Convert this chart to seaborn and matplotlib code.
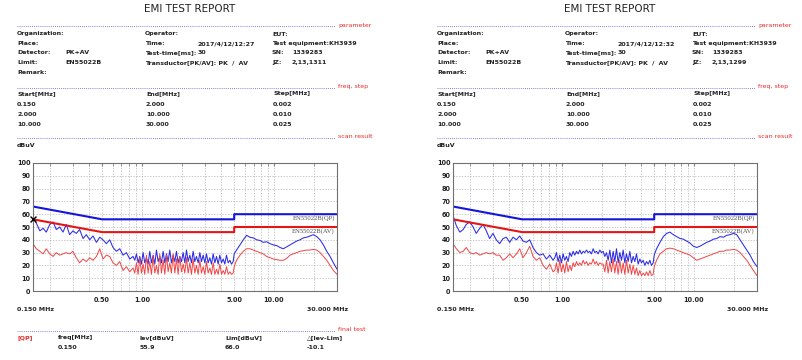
import matplotlib
matplotlib.use("Agg")
import matplotlib.pyplot as plt
from matplotlib.lines import Line2D
from matplotlib.ticker import NullFormatter
import seaborn as sns
import pandas as pd

FIG_W, FIG_H = 802, 360
PANEL_SHIFT = 420

# sweep frequencies (MHz), shared by both scans
freq_mhz = [
    0.150, 0.159, 0.169, 0.179, 0.189, 0.201, 0.213, 0.225, 0.239, 0.253,
    0.268, 0.284, 0.301, 0.319, 0.338, 0.359, 0.380, 0.403, 0.427, 0.453,
    0.480, 0.508, 0.539, 0.571, 0.605, 0.642, 0.680, 0.721, 0.764, 0.810,
    0.858,
    0.884, 0.910, 0.937, 0.964, 0.993, 1.022, 1.052, 1.083, 1.115, 1.148,
    1.182, 1.217, 1.253, 1.290, 1.328, 1.367, 1.407, 1.449, 1.492, 1.536,
    1.581, 1.627, 1.675, 1.725, 1.776, 1.828, 1.882, 1.938, 1.995, 2.054,
    2.114, 2.177, 2.241, 2.307, 2.375, 2.445, 2.517, 2.591, 2.668, 2.747,
    2.828, 2.911, 2.997, 3.085, 3.176, 3.270, 3.367, 3.466, 3.568, 3.673,
    3.782, 3.893, 4.008, 4.126, 4.248, 4.373, 4.503, 4.635, 4.772, 4.913,
    5.000,
    5.21, 5.53, 5.86, 6.21, 6.58, 6.97, 7.39, 7.83, 8.30, 8.80,
    9.33, 9.89, 10.48, 11.11, 11.77, 12.48, 13.23, 14.02, 14.86, 15.75,
    16.69, 17.69, 18.75, 19.88, 21.07, 22.33, 23.67, 25.09, 26.59, 28.19,
    30.00,
]

# left report (12:27)
left_pk = [
    58, 53, 47, 49, 46, 52, 54, 48, 50, 46,
    52, 44, 47, 45, 48, 41, 44, 40, 43, 38,
    42, 40, 37, 40, 34, 31, 33, 28, 30, 25,
    27,
    24, 29, 22, 27, 21, 30, 22, 26, 21, 31,
    22, 28, 21, 32, 23, 27, 22, 31, 22, 29,
    23, 32, 22, 28, 23, 31, 22, 27, 23, 30,
    22, 32, 23, 28, 22, 31, 23, 27, 22, 30,
    23, 28, 22, 29, 22, 26, 21, 29, 22, 27,
    21, 28, 22, 25, 21, 28, 22, 24, 21, 23,
    29,
    32, 36, 40, 43.5, 42, 41.5, 40, 39.5, 38, 38.5,
    37, 36, 35.5, 34, 33, 34.5, 36, 37.5, 39, 40,
    41.5, 42, 43, 44, 42.5, 40, 36, 31, 27, 22,
    17,
]
left_av = [
    37, 33, 31, 29, 33, 29, 27, 30, 28, 29,
    30, 29, 31, 26, 22, 25, 23, 26, 24, 27,
    33, 25, 28, 27, 22, 20, 23, 16, 19, 15,
    18,
    14, 22, 13, 26, 14, 21, 13, 28, 14, 23,
    13, 27, 14, 20, 13, 29, 14, 24, 13, 28,
    15, 22, 14, 29, 14, 25, 13, 27, 15, 21,
    14, 26, 14, 22, 13, 25, 14, 20, 13, 24,
    14, 19, 13, 23, 14, 18, 13, 22, 13, 17,
    13, 21, 13, 16, 13, 19, 13, 15, 13, 14,
    19,
    24, 28, 31, 33, 33, 32, 31, 30, 29, 27,
    26, 25, 24.5, 24, 24, 25.5, 28, 29, 30, 31,
    31.5, 32, 32, 32.5, 32, 30, 27, 24, 20, 16,
    13,
]

# right report (12:32)
right_pk = [
    59, 51, 46, 48, 52, 54, 50, 45, 49, 52,
    47, 41, 45, 40, 37, 41, 42, 38, 42, 40,
    43, 39, 38, 40, 34, 30, 28, 29, 25, 28,
    24,
    26, 30, 23, 28, 22, 29, 24, 27, 23, 30,
    27, 31, 28, 31, 29, 32, 29, 31, 30, 32,
    30, 31, 29, 33, 30, 31, 29, 32, 30, 31,
    27, 30, 24, 32, 22, 31, 23, 33, 22, 30,
    24, 32, 22, 29, 23, 31, 22, 27, 23, 29,
    21, 25, 22, 24, 20, 23, 21, 24, 20, 22,
    28,
    33, 38, 42.5, 45, 46, 44, 42.5, 41, 40.5, 39,
    37.5, 35, 34, 35, 36.5, 38, 39, 40.5, 41, 42.5,
    42, 43.5, 44, 45, 44, 40, 36, 32, 28, 23,
    19,
]
right_av = [
    37, 33, 30, 31, 34, 30, 29, 30, 28, 29,
    30, 29, 30, 28, 28, 24, 26, 29, 26, 29,
    33, 26, 30, 35, 27, 24, 26, 20, 17, 21,
    15,
    16, 22, 14, 24, 15, 21, 14, 23, 15, 20,
    16, 22, 19, 23, 20, 22, 20, 24, 21, 23,
    20, 22, 21, 25, 21, 23, 20, 22, 21, 21,
    15, 24, 14, 23, 15, 25, 14, 23, 13, 24,
    14, 22, 13, 24, 14, 21, 13, 20, 13, 18,
    12, 16, 12, 14, 12, 15, 12, 16, 12, 13,
    19,
    24, 29, 31, 33, 33.5, 33, 32, 31, 30, 29,
    28, 26, 24, 25, 26, 27, 28, 29, 30, 31,
    31, 32, 32, 32.5, 32, 30, 27, 24, 20, 16,
    12,
]

# EN55022B class B limits
limit_freq = [0.15, 0.5, 5.0, 5.0, 30.0]
qp_limit = [66, 56, 56, 60, 60]
av_limit = [56, 46, 46, 50, 50]

# final test point (left report only)
final_freq = [0.150]
final_level = [55.9]
final_row = ["0.150", "55.9", "66.0", "-10.1"]

y_ticks = [0, 10, 20, 30, 40, 50, 60, 70, 80, 90, 100]
x_tick_vals = [0.5, 1.0, 5.0, 10.0]
x_tick_labels = ["0.50", "1.00", "5.00", "10.00"]
x_grid_minor = [0.2, 0.3, 0.4, 0.6, 0.7, 0.8, 0.9, 2, 3, 4, 6, 7, 8, 9, 20]

freq_table = [["Start[MHz]", "End[MHz]", "Step[MHz]"],
              ["0.150", "2.000", "0.002"],
              ["2.000", "10.000", "0.010"],
              ["10.000", "30.000", "0.025"]]

sns.set_style("white")
plt.rcParams['font.family'] = ['DejaVu Sans']

fig = plt.figure(figsize=(FIG_W / 100, FIG_H / 100), dpi=100)


def fx(x):
    return x / FIG_W


def fy(y):
    return 1 - y / FIG_H


def put(x, y, s, size=4.5, weight='bold', color='#222222', ha='left', **kw):
    fig.text(fx(x), fy(y), s, fontsize=size, fontweight=weight, color=color,
             ha=ha, va='center', **kw)


def separator(x0, y, label):
    fig.add_artist(Line2D([fx(x0), fx(x0 + 318)], [fy(y), fy(y)], color='#5a5ad0',
                          lw=0.6, linestyle=(0, (1, 1.5))))
    put(x0 + 321, y - 1, label, size=4.5, weight='normal', color='#e8282a')


def draw_panel(dx, time_str, jz_str, pk, av, final=False):
    put(190 + dx, 9.5, "EMI TEST REPORT", size=7.5, weight='normal', ha='center')
    separator(17 + dx, 26, "parameter")

    rows = [34, 43.5, 53, 62.5, 72]
    put(17 + dx, rows[0], "Organization:")
    put(17 + dx, rows[1], "Place:")
    put(17 + dx, rows[2], "Detector:")
    put(65 + dx, rows[2], "PK+AV")
    put(17 + dx, rows[3], "Limit:")
    put(65 + dx, rows[3], "EN55022B")
    put(17 + dx, rows[4], "Remark:")
    put(145 + dx, rows[0], "Operator:")
    put(145 + dx, rows[1], "Time:")
    put(198 + dx, rows[1], time_str)
    put(145 + dx, rows[2], "Test-time[ms]:")
    put(198 + dx, rows[2], "30")
    put(145 + dx, rows[3], "Transductor[PK/AV]: PK  /  AV")
    put(272 + dx, rows[0], "EUT:")
    put(272 + dx, rows[1], "Test equipment:KH3939")
    put(272 + dx, rows[2], "SN:")
    put(292 + dx, rows[2], "1339283")
    put(272 + dx, rows[3], "JZ:")
    put(292 + dx, rows[3], jz_str)

    separator(17 + dx, 87.5, "freq, step")
    for ty, row in zip([94, 104, 114, 124], freq_table):
        for tx, cell in zip([17, 146, 273], row):
            put(tx + dx, ty, cell)

    separator(17 + dx, 137.5, "scan result")
    put(17 + dx, 145.5, "dBuV")

    ax = fig.add_axes([fx(33 + dx), fy(291), 304 / FIG_W, 128 / FIG_H])
    scan = pd.DataFrame({'freq': freq_mhz, 'pk': pk, 'av': av})
    limits = pd.DataFrame({'freq': limit_freq, 'qp': qp_limit, 'avl': av_limit})
    sns.lineplot(data=scan, x='freq', y='pk', color='#2b2be6', lw=0.75,
                 estimator=None, sort=False, ax=ax)
    sns.lineplot(data=scan, x='freq', y='av', color='#f04545', lw=0.7,
                 estimator=None, sort=False, ax=ax)
    sns.lineplot(data=limits, x='freq', y='qp', color='#1414dc', lw=1.5,
                 estimator=None, sort=False, ax=ax)
    sns.lineplot(data=limits, x='freq', y='avl', color='#e61414', lw=1.5,
                 estimator=None, sort=False, ax=ax)
    if final:
        sns.scatterplot(x=final_freq, y=final_level, marker='x', color='black',
                        s=18, linewidth=1.0, ax=ax, clip_on=False, zorder=6)

    ax.set_xscale('log')
    ax.set_xlim(0.15, 30)
    ax.set_ylim(0, 100)
    ax.set_xticks(x_tick_vals, x_tick_labels)
    ax.set_xticks(x_grid_minor, minor=True)
    ax.xaxis.set_minor_formatter(NullFormatter())
    ax.set_yticks(y_ticks, [str(v) for v in y_ticks])
    ax.set_xlabel("")
    ax.set_ylabel("")
    grid_kw = dict(color='#b4b4b4', lw=0.5, linestyle=(0, (2, 2)))
    ax.grid(True, which='both', axis='x', **grid_kw)
    ax.grid(True, which='major', axis='y', **grid_kw)
    ax.tick_params(axis='x', which='both', direction='in', top=True, bottom=False,
                   length=2, color='#808080', labelsize=4.7, pad=4.5,
                   labelcolor='#222222')
    ax.tick_params(axis='y', length=0, labelsize=4.7, pad=1.8, labelcolor='#222222')
    for lbl in ax.get_xticklabels() + ax.get_yticklabels():
        lbl.set_fontweight('bold')
    for sp in ax.spines.values():
        sp.set_color('#707070')
        sp.set_linewidth(0.8)

    lab_kw = dict(transform=ax.get_yaxis_transform(), ha='right', va='center',
                  fontsize=4.8, family='Liberation Serif', color='#505050')
    ax.text(0.993, 57.3, "EN55022B(QP)", **lab_kw)
    ax.text(0.993, 46.6, "EN55022B(AV)", **lab_kw)

    put(17 + dx, 309.5, "0.150 MHz")
    put(348 + dx, 309.5, "30.000 MHz", ha='right')

    if final:
        separator(17 + dx, 330.5, "final test")
        put(17 + dx, 338, "[QP]", color='#e8282a')
        for tx, head, val in zip([58, 140, 225, 307],
                                 ["freq[MHz]", "lev[dBuV]", "Lim[dBuV]", "\u25b3[lev-Lim]"],
                                 final_row):
            put(tx + dx, 338, head)
            put(tx + dx, 347.5, val)


draw_panel(0, "2017/4/12/12:27", "2,13,1311", left_pk, left_av, final=True)
draw_panel(PANEL_SHIFT, "2017/4/12/12:32", "2,13,1299", right_pk, right_av)

fig.savefig("out.png", dpi=100, facecolor='white')
